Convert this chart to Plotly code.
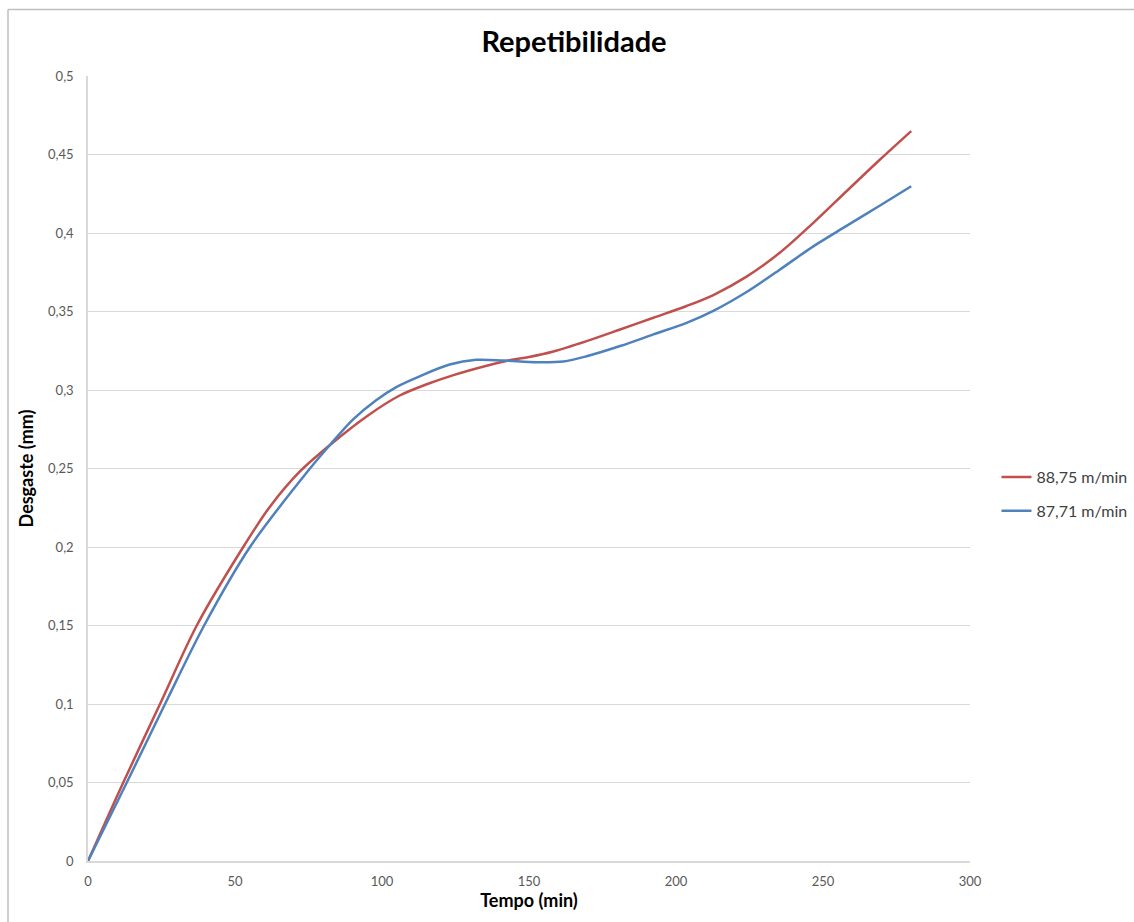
import plotly.graph_objects as go

# Data
tempo_88_75 = [0, 12, 24.5, 37, 52.8, 62, 72, 82.3, 95, 106, 115, 124.3, 135.6, 143.5,
               150, 158.3, 169.6, 181, 192.3, 203.6, 212.7, 224, 235.4, 246.7, 258, 269.4, 280]
desgaste_88_75 = [0, 0.05, 0.1, 0.15, 0.2, 0.226, 0.248, 0.265, 0.2835, 0.2965, 0.3035, 0.3095,
                  0.3155, 0.319, 0.321, 0.3245, 0.3311, 0.3385, 0.346, 0.3535, 0.3605, 0.3722,
                  0.3876, 0.4065, 0.4266, 0.4468, 0.4649]

tempo_87_71 = [0, 13.2, 26.2, 39.5, 55.1, 75.5, 82.3, 90, 98, 105, 112.9, 123, 132, 141.3,
               152.6, 161.7, 169.6, 181, 192.3, 203.6, 212.7, 224, 235.4, 246.7, 258, 269.4, 280]
desgaste_87_71 = [0, 0.05, 0.1, 0.15, 0.2, 0.25, 0.265, 0.281, 0.2935, 0.302, 0.3088, 0.3162,
                  0.3192, 0.3188, 0.3177, 0.3182, 0.3215, 0.328, 0.3354, 0.3428, 0.3504, 0.3624,
                  0.3768, 0.3915, 0.4045, 0.4175, 0.4298]

series_names = ["88,75 m/min", "87,71 m/min"]
series_colors = ["#C0504D", "#4F81BD"]

x_ticks = [0, 50, 100, 150, 200, 250, 300]
y_ticks = [0, 0.05, 0.1, 0.15, 0.2, 0.25, 0.3, 0.35, 0.4, 0.45, 0.5]

FONT = "Lato, 'Open Sans', sans-serif"

fig = go.Figure()
fig.add_trace(go.Scatter(x=tempo_88_75, y=desgaste_88_75, mode="lines", name=series_names[0],
                         legendgroup="a",
                         line=dict(color=series_colors[0], width=2.5, shape="spline", smoothing=0.9)))
fig.add_trace(go.Scatter(x=tempo_87_71, y=desgaste_87_71, mode="lines", name=series_names[1],
                         legendgroup="b",
                         line=dict(color=series_colors[1], width=2.5, shape="spline", smoothing=0.9)))

fig.update_layout(
    width=1134, height=922,
    margin=dict(l=88, r=164, t=76, b=61, autoexpand=False),
    paper_bgcolor="white", plot_bgcolor="white",
    separators=",.",
    font=dict(family=FONT, color="#595959", size=13),
    title=dict(text="<b>Repetibilidade</b>", x=574 / 1134, xref="container", xanchor="center",
               y=1 - 42 / 922, yref="container", yanchor="middle",
               font=dict(family=FONT, size=29, color="#000000")),
    xaxis=dict(range=[0, 300], tickvals=x_ticks, showgrid=False, zeroline=False,
               showline=True, linecolor="#D9D9D9", linewidth=1.5, ticks="",
               ticklabelstandoff=8,
               title=dict(text="<b>Tempo (min)</b>", standoff=6,
                          font=dict(family=FONT, size=18, color="#000000"))),
    yaxis=dict(range=[0, 0.5], tickvals=y_ticks, showgrid=True, gridcolor="#D9D9D9", gridwidth=1.2,
               zeroline=False, showline=True, linecolor="#D9D9D9", linewidth=1.5, ticks="",
               ticklabelstandoff=10,
               title=dict(text="<b>Desgaste (mm)</b>", standoff=10,
                          font=dict(family=FONT, size=18, color="#000000"))),
    legend=dict(x=1.03, y=0.4675, xanchor="left", yanchor="middle", itemwidth=30,
                tracegroupgap=10, bgcolor="rgba(0,0,0,0)",
                font=dict(family=FONT, size=16, color="#404040")),
    shapes=[
        dict(type="line", xref="paper", yref="paper", x0=-0.0907, x1=1.3, y0=1.0847, y1=1.0847,
             line=dict(color="#BFBFBF", width=1.5)),
        dict(type="line", xref="paper", yref="paper", x0=-0.0907, x1=-0.0907, y0=-0.2, y1=1.0847,
             line=dict(color="#BFBFBF", width=1.5)),
    ],
)

fig.write_html("out.html")
